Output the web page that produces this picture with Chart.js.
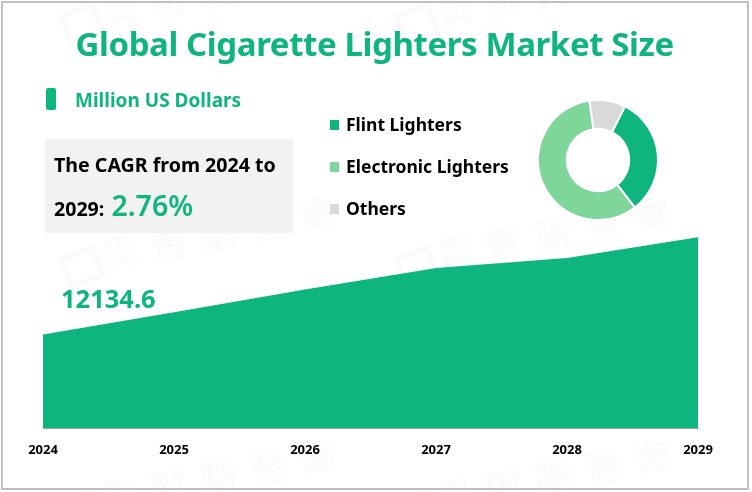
<!DOCTYPE html>
<html>
<head>
<meta charset="utf-8">
<script src="https://cdn.jsdelivr.net/npm/chart.js@4"></script>
<style>
html, body { margin: 0; padding: 0; background: #fff; }
#page { position: relative; width: 752px; height: 492px; overflow: hidden; font-family: "Noto Sans", sans-serif; font-weight: 700; }
#frame { position: absolute; left: 1px; top: 1px; width: 744px; height: 485px; border: 2px solid #bfbfbf; }
#page div.t { position: absolute; white-space: nowrap; line-height: 1; }
#areaChart { position: absolute; left: 0; top: 0; }
#donutChart { position: absolute; left: 528px; top: 90px; }
.green { color: #0fb57f; }
#box { position: absolute; left: 45px; top: 139px; width: 248px; height: 94px; background: #f2f2f2; }
#marker { position: absolute; left: 46px; top: 88px; width: 10px; height: 22px; border-radius: 2px; background: #0fb57f; }
.swatch { position: absolute; left: 330px; width: 9px; height: 10px; }
.mark { position: absolute; white-space: nowrap; line-height: 1; font-family: "Noto Sans CJK SC", sans-serif; font-size: 34px; letter-spacing: 16px; color: #fff; -webkit-text-stroke: 1px #f9f9f9; transform: rotate(-11deg); transform-origin: left center; }
.logo { position: absolute; width: 28px; height: 24px; border: 5px solid #fafafa; transform: rotate(-20deg); }
</style>
</head>
<body>
<div id="page">
  <div id="marks"></div>
  <div id="box"></div>
  <canvas id="areaChart" width="752" height="492"></canvas>
  <canvas id="donutChart" width="140" height="140"></canvas>
  <div class="t green" style="left:75.5px;top:27px;font-size:33px;letter-spacing:-0.4px">Global Cigarette Lighters Market Size</div>
  <div id="marker"></div>
  <div class="t green" style="left:75px;top:91px;font-size:19px">Million US Dollars</div>
  <div class="t" style="left:54px;top:155px;font-size:19.6px">The CAGR from 2024 to</div>
  <div class="t" style="left:54px;top:191px;font-size:19.6px">2029: <span class="green" style="font-size:28.5px;font-weight:600;margin-left:2px">2.76%</span></div>
  <div class="t green" id="firstValue" style="left:61px;top:286px;font-size:25.5px"></div>
  <div id="legend"></div>
  <div id="frame"></div>
</div>
<script>
const years = ["2024", "2025", "2026", "2027", "2028", "2029"];
const marketSize = [12134.6, 12540, 12957, 13348, 13530, 13912];
const segmentNames = ["Flint Lighters", "Electronic Lighters", "Others"];
const segmentShares = [32.1, 58.2, 9.7];
const segmentColors = ["#0eb57f", "#7fd69b", "#d9d9d9"];
const legendTops = [120, 162, 204];

document.getElementById("firstValue").innerText = marketSize[0];

// Background watermark tiles
const marks = document.getElementById("marks");
[63, 398].forEach(x => {
    [-243, 0, 243].forEach(dy => {
        const logo = document.createElement("div");
        logo.className = "logo";
        logo.style.cssText = `left:${x}px;top:${250 + dy}px`;
        marks.appendChild(logo);
        const word = document.createElement("div");
        word.className = "mark";
        word.style.cssText = `left:${x + 40}px;top:${238 + dy}px`;
        word.innerText = "贝哲斯咨询";
        marks.appendChild(word);
    });
});

// Legend
const legend = document.getElementById("legend");
segmentNames.forEach((name, i) => {
    const sw = document.createElement("div");
    sw.className = "swatch";
    sw.style.top = legendTops[i] + "px";
    sw.style.background = segmentColors[i];
    legend.appendChild(sw);
    const label = document.createElement("div");
    label.className = "t";
    label.style.cssText = `left:346px;top:${legendTops[i] - 4}px;font-size:17.5px`;
    label.innerText = name;
    legend.appendChild(label);
});

// Area chart
new Chart(document.getElementById("areaChart").getContext("2d"), {
    type: "line",
    data: {
        labels: years,
        datasets: [{
            data: marketSize,
            fill: "origin",
            backgroundColor: "#0eb57f",
            borderWidth: 0,
            pointRadius: 0,
            tension: 0
        }]
    },
    options: {
        responsive: false,
        animation: false,
        layout: { padding: { left: 43, right: 54, top: 205, bottom: 20 } },
        plugins: { legend: { display: false }, tooltip: { enabled: false } },
        scales: {
            x: {
                offset: false,
                grid: { display: false, drawTicks: false },
                border: { color: "#a6a6a6", width: 1 },
                ticks: { color: "#000", padding: 14, maxRotation: 0, font: { family: "Noto Sans", weight: "bold", size: 13 } }
            },
            y: { display: false, min: 10418, max: 14500 }
        }
    }
});

// Donut
new Chart(document.getElementById("donutChart").getContext("2d"), {
    type: "doughnut",
    data: {
        labels: segmentNames,
        datasets: [{ data: segmentShares, backgroundColor: segmentColors, borderColor: "#fff", borderWidth: 2 }]
    },
    options: {
        responsive: false,
        animation: false,
        cutout: "52%",
        rotation: 26.7,
        layout: { padding: 9 },
        plugins: { legend: { display: false }, tooltip: { enabled: false } }
    }
});
</script>
</body>
</html>
